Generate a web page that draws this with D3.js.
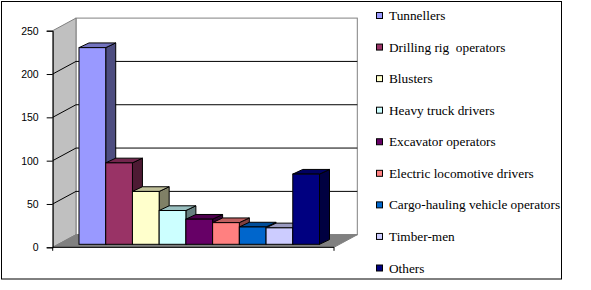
<!DOCTYPE html>
<html>
<head>
<meta charset="utf-8">
<script src="https://cdn.jsdelivr.net/npm/d3@7"></script>
<style>
  html, body { margin: 0; padding: 0; background: #fff; }
  svg { display: block; }
  .legtext { font-family: "Liberation Serif", "Times New Roman", serif; font-size: 13.3px; }
  .axtext { font-family: "Liberation Sans", Arial, sans-serif; font-size: 10.5px; }
</style>
</head>
<body>
<svg id="chart" width="591" height="290"></svg>
<script>
// ---- data ----
const categories = ["Tunnellers", "Drilling rig  operators", "Blusters", "Heavy truck drivers",
  "Excavator operators", "Electric locomotive drivers", "Cargo-hauling vehicle operators",
  "Timber-men", "Others"];
const values = [227, 94, 61, 39, 29, 25, 20, 19, 81];
const colors = ["#9999FF", "#993366", "#FFFFCC", "#CCFFFF", "#660066", "#FF8080",
  "#0066CC", "#CCCCFF", "#000080"];
const yTicks = [0, 50, 100, 150, 200, 250];

// ---- layout ----
const svg = d3.select("#chart");
const frontX0 = 52.7, frontX1 = 334;
const wallDx = 23.3, wallDy = -12.6;       // depth of the whole 3D box
const barDx0 = 5.5, barDy0 = -3;           // bar front plane offset
const barDx = 10, barDy = -4.7;            // bar depth

const y = d3.scaleLinear().domain([0, 250]).range([247.3, 30.7]);
const x = d3.scaleBand().domain(categories).range([73.5, 314]).padding(0);
const color = d3.scaleOrdinal().domain(categories).range(colors);

// outer border
svg.append("rect").attr("x", 1.5).attr("y", 1.5).attr("width", 560).attr("height", 277.5)
  .attr("fill", "#fff").attr("stroke", "#000").attr("stroke-width", 1);

const y0 = y(0), yTop = y(250);
const line = d3.line();

// back wall
svg.append("rect")
  .attr("x", frontX0 + wallDx).attr("y", yTop + wallDy)
  .attr("width", frontX1 - frontX0).attr("height", y0 - yTop)
  .attr("fill", "#fff").attr("stroke", "#808080").attr("stroke-width", 1);

// left wall
svg.append("path")
  .attr("d", line([[frontX0, yTop], [frontX0 + wallDx, yTop + wallDy],
                   [frontX0 + wallDx, y0 + wallDy], [frontX0, y0]]) + "Z")
  .attr("fill", "#C0C0C0").attr("stroke", "#808080").attr("stroke-width", 1);

// floor
svg.append("path")
  .attr("d", line([[frontX0, y0], [frontX0 + wallDx, y0 + wallDy],
                   [frontX1 + wallDx, y0 + wallDy], [frontX1, y0]]) + "Z")
  .attr("fill", "#808080").attr("stroke", "#808080").attr("stroke-width", 1);

// gridlines
svg.append("g").selectAll("path").data(yTicks.filter(t => t > 0 && t < 250)).join("path")
  .attr("d", t => line([[frontX0, y(t)], [frontX0 + wallDx, y(t) + wallDy],
                        [frontX1 + wallDx, y(t) + wallDy]]))
  .attr("fill", "none").attr("stroke", "#000").attr("stroke-width", 1);

// bars
const shade = (c, k) => { const r = d3.rgb(c); return d3.rgb(r.r * k, r.g * k, r.b * k).toString(); };
const bars = svg.append("g").selectAll("g").data(categories).join("g");
bars.each(function(c, i) {
  const g = d3.select(this);
  const xl = x(c) + barDx0, xr = x(c) + x.bandwidth() + barDx0;
  const yt = y(values[i]) + barDy0, yb = y(0) + barDy0;
  g.append("path")
    .attr("d", line([[xr, yt], [xr + barDx, yt + barDy], [xr + barDx, yb + barDy], [xr, yb]]) + "Z")
    .attr("fill", shade(color(c), 0.5)).attr("stroke", "#000").attr("stroke-width", 1)
    .attr("stroke-linejoin", "round");
  g.append("path")
    .attr("d", line([[xl, yt], [xl + barDx, yt + barDy], [xr + barDx, yt + barDy], [xr, yt]]) + "Z")
    .attr("fill", shade(color(c), 0.75)).attr("stroke", "#000").attr("stroke-width", 1)
    .attr("stroke-linejoin", "round");
  g.append("rect")
    .attr("x", xl).attr("y", yt).attr("width", xr - xl).attr("height", yb - yt)
    .attr("fill", color(c)).attr("stroke", "#000").attr("stroke-width", 1);
});

// value axis
const yAxis = d3.axisLeft(y).tickValues(yTicks).tickSize(6).tickPadding(8);
const ya = svg.append("g").attr("transform", `translate(${frontX0},0)`).call(yAxis);
ya.attr("font-family", null).attr("font-size", null);
ya.select(".domain").attr("stroke", "#000");
ya.selectAll(".tick line").attr("stroke", "#000");
ya.selectAll(".tick text").attr("class", "axtext").attr("fill", "#000");

// category axis (front floor edge)
svg.append("path")
  .attr("d", line([[frontX0, y0 + 3.5], [frontX0, y0], [frontX1, y0], [frontX1, y0 + 3.5]]))
  .attr("fill", "none").attr("stroke", "#000").attr("stroke-width", 1);

// legend
const legY = d3.scalePoint().domain(categories).range([15.5, 268]);
const leg = svg.append("g").selectAll("g").data(categories).join("g")
  .attr("transform", c => `translate(376,${legY(c)})`);
leg.append("rect").attr("x", 0.5).attr("y", -3).attr("width", 6).attr("height", 6)
  .attr("fill", c => color(c)).attr("stroke", "#000").attr("stroke-width", 1);
leg.append("text").attr("class", "legtext").attr("x", 13).attr("y", 4.5)
  .attr("fill", "#000")
  .style("white-space", "pre")
  .text(c => c);
</script>
</body>
</html>
